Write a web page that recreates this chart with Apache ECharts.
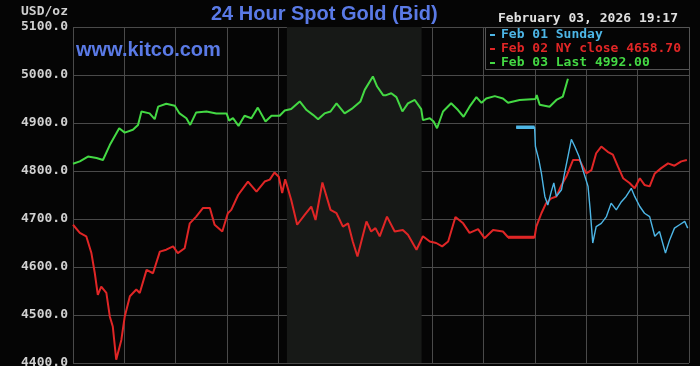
<!DOCTYPE html>
<html>
<head>
<meta charset="utf-8">
<script src="https://cdn.jsdelivr.net/npm/echarts@6/dist/echarts.min.js"></script>
<style>
html,body{margin:0;padding:0;background:#050505;}
#chart{width:700px;height:366px;}
</style>
</head>
<body>
<div id="chart"></div>
<script>
// x = minutes after midnight (NY time), y = USD/oz
const yTicks = [4400, 4500, 4600, 4700, 4800, 4900, 5000, 5100];
const seriesNames = ['Feb 01 Sunday', 'Feb 02 NY close 4658.70', 'Feb 03 Last 4992.00'];
const nyHours = [500, 815]; // shaded session

const feb03 = [
  [0,4815],[16,4820],[35,4830],[55,4827],[70,4823],[86,4854],[108,4889],[121,4880],[140,4886],
  [152,4896],[160,4924],[179,4920],[191,4908],[199,4934],[218,4940],[238,4936],[249,4920],
  [265,4910],[274,4896],[288,4922],[312,4924],[335,4920],[359,4920],[365,4905],[374,4910],
  [387,4894],[401,4915],[417,4910],[432,4932],[450,4903],[464,4915],[483,4915],[495,4926],
  [510,4929],[530,4945],[546,4927],[561,4917],[573,4908],[588,4920],[602,4924],[616,4941],
  [635,4920],[654,4931],[672,4945],[682,4969],[701,4997],[711,4976],[725,4958],[732,4958],
  [744,4962],[756,4954],[770,4924],[783,4941],[799,4948],[814,4929],[818,4906],[834,4910],
  [843,4903],[851,4889],[865,4924],[884,4941],[900,4927],[913,4913],[927,4934],[943,4954],
  [955,4942],[966,4951],[986,4956],[1005,4951],[1017,4942],[1044,4948],[1081,4950],[1084,4958],
  [1091,4938],[1114,4934],[1130,4948],[1145,4955],[1157,4992]
];

const feb02 = [
  [0,4688],[16,4671],[31,4664],[43,4629],[51,4587],[58,4542],[66,4559],[78,4546],[86,4497],
  [93,4476],[101,4407],[113,4448],[121,4497],[133,4539],[148,4553],[156,4546],[172,4594],
  [187,4587],[203,4632],[218,4636],[234,4643],[245,4629],[261,4639],[273,4691],[288,4705],
  [304,4723],[320,4723],[331,4688],[349,4674],[362,4712],[370,4719],[386,4750],[409,4778],
  [429,4757],[448,4778],[460,4782],[471,4797],[481,4788],[489,4754],[496,4783],[510,4740],
  [524,4688],[542,4709],[557,4726],[567,4698],[583,4776],[602,4719],[616,4712],[631,4684],
  [643,4691],[654,4653],[665,4622],[674,4653],[686,4695],[697,4674],[707,4681],[717,4664],
  [734,4705],[752,4674],[771,4677],[783,4667],[803,4636],[818,4664],[834,4653],[849,4650],
  [863,4643],[877,4653],[894,4704],[912,4691],[927,4671],[947,4679],[962,4660],[982,4677],
  [1005,4674],[1017,4662],[1079,4662],[1083,4684],[1095,4712],[1106,4733],[1118,4743],
  [1130,4747],[1142,4771],[1153,4788],[1169,4823],[1184,4823],[1200,4795],[1212,4802],
  [1223,4837],[1235,4851],[1250,4840],[1262,4834],[1274,4809],[1286,4785],[1301,4775],
  [1313,4764],[1325,4785],[1336,4771],[1348,4768],[1360,4795],[1375,4806],[1391,4816],
  [1406,4811],[1422,4820],[1435,4823]
];
const feb02Flat = [[1017,4662],[1079,4662]];

const feb01 = [
  [1036,4891],[1079,4891],[1081,4851],[1089,4823],[1095,4795],[1103,4747],[1110,4729],
  [1118,4757],[1124,4775],[1130,4747],[1142,4761],[1149,4795],[1157,4830],[1165,4866],
  [1173,4851],[1183,4830],[1192,4802],[1204,4768],[1209,4719],[1215,4650],[1223,4684],
  [1235,4691],[1247,4705],[1258,4733],[1270,4719],[1282,4736],[1293,4747],[1305,4764],
  [1313,4747],[1325,4726],[1336,4712],[1348,4705],[1360,4664],[1371,4674],[1385,4629],
  [1395,4657],[1406,4681],[1418,4688],[1430,4695],[1437,4681]
];
const feb01Flat = [[1036,4891],[1079,4891]];

const colors = ['#4db6e6', '#e02626', '#44d944'];
const mono = "'DejaVu Sans Mono', monospace";

const chart = echarts.init(document.getElementById('chart'), null, {renderer: 'canvas'});
chart.setOption({
  backgroundColor: '#050505',
  animation: false,
  title: [
    {text: '24 Hour Spot Gold (Bid)', left: 211, top: 2, padding: 0,
     textStyle: {color: '#5a7ae6', fontFamily: "'Liberation Sans', Arial, sans-serif", fontWeight: 'bold', fontSize: 20, lineHeight: 24}},
    {text: 'www.kitco.com', left: 76, top: 38, padding: 0,
     textStyle: {color: '#5a7ae6', fontFamily: "'Liberation Sans', Arial, sans-serif", fontWeight: 'bold', fontSize: 20, lineHeight: 24}},
    {text: 'USD/oz', left: 21, top: 5, padding: 0,
     textStyle: {color: '#d0d0d0', fontFamily: mono, fontWeight: 'bold', fontSize: 13, lineHeight: 14}},
    {text: 'February 03, 2026 19:17', left: 498, top: 12, padding: 0,
     textStyle: {color: '#e0e0e0', fontFamily: mono, fontWeight: 'bold', fontSize: 13, lineHeight: 14}}
  ],
  graphic: [
    {type: 'rect', shape: {x: 485.5, y: 27.5, width: 204, height: 42}, z: 5,
     style: {fill: '#050505', stroke: '#555', lineWidth: 1}}
  ],
  legend: {
    orient: 'vertical', left: 490, top: 28, padding: 0, itemGap: 0, z: 10,
    icon: 'rect', itemWidth: 5, itemHeight: 2,
    selectedMode: false,
    textStyle: {fontFamily: mono, fontWeight: 'bold', fontSize: 13, lineHeight: 14, padding: [0,0,0,1]},
    data: seriesNames.map((n, i) => ({name: n, itemStyle: {color: colors[i]}, textStyle: {color: colors[i]}}))
  },
  grid: {left: 73, right: 11, top: 27, bottom: 3, containLabel: false, outerBoundsMode: 'none'},
  xAxis: {
    type: 'value', min: 0, max: 1440, interval: 120,
    axisLine: {show: false}, axisTick: {show: false}, axisLabel: {show: false},
    splitLine: {show: true, lineStyle: {color: '#4a4a4a', width: 1}}
  },
  yAxis: {
    type: 'value', min: yTicks[0], max: yTicks[yTicks.length - 1], interval: 100,
    axisLine: {show: false}, axisTick: {show: false},
    axisLabel: {color: '#d0d0d0', fontFamily: mono, fontWeight: 'bold', fontSize: 13, margin: 5,
                formatter: v => v.toFixed(1)},
    splitLine: {show: true, lineStyle: {color: '#4a4a4a', width: 1}}
  },
  series: [
    {name: seriesNames[0], type: 'line', data: feb01, showSymbol: false, symbol: 'none',
     lineStyle: {color: colors[0], width: 1.4}, itemStyle: {color: colors[0]}, z: 4,
     markArea: {silent: true, itemStyle: {color: '#171917'},
                data: [[{xAxis: nyHours[0]}, {xAxis: nyHours[1]}]]}},
    {name: seriesNames[1], type: 'line', data: feb02, showSymbol: false, symbol: 'none',
     lineStyle: {color: colors[1], width: 2}, itemStyle: {color: colors[1]}, z: 3},
    {name: seriesNames[2], type: 'line', data: feb03, showSymbol: false, symbol: 'none',
     lineStyle: {color: colors[2], width: 2}, itemStyle: {color: colors[2]}, z: 3},
    {name: 'feb01flat', type: 'line', data: feb01Flat, showSymbol: false, symbol: 'none',
     lineStyle: {color: colors[0], width: 3.5}, z: 4},
    {name: 'feb02flat', type: 'line', data: feb02Flat, showSymbol: false, symbol: 'none',
     lineStyle: {color: colors[1], width: 3}, z: 3}
  ]
});
</script>
</body>
</html>
